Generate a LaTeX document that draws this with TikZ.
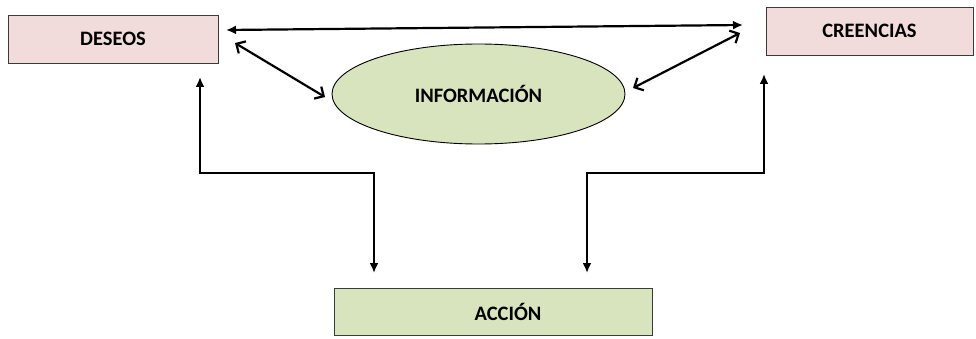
\documentclass[tikz,border=0pt]{standalone}
\usepackage{fontspec}
\setmainfont{Carlito}
\usetikzlibrary{arrows.meta,shapes.geometric}
\definecolor{pinkfill}{HTML}{F2DCDB}
\definecolor{greenfill}{HTML}{D7E4BD}
\definecolor{edge}{HTML}{3A3A3A}
\begin{document}
\begin{tikzpicture}[x=1pt,y=1pt,
  txt/.style={font=\fontsize{20.5}{24}\selectfont\bfseries, text=black},
  pinkbox/.style={draw=edge, line width=0.9pt, fill=pinkfill, rectangle, inner sep=0pt, txt},
  greenbox/.style={draw=edge, line width=0.9pt, fill=greenfill, rectangle, inner sep=0pt, txt},
  infoell/.style={draw=black, line width=0.9pt, fill=greenfill, ellipse, inner sep=0pt, txt},
  conn/.style={line width=2.2pt, black},
  filledtips/.style={conn, {Latex[length=10pt,width=9pt]}-{Latex[length=10pt,width=9pt]}},
  opentips/.style={conn, {Straight Barb[length=7pt,width=14pt,line width=2.2pt]}-{Straight Barb[length=7pt,width=14pt,line width=2.2pt]}}
]
\useasboundingbox (0,0) rectangle (976,338);
\node[pinkbox, minimum width=210pt, minimum height=48pt] (des) at (113,299) {DESEOS};
\node[pinkbox, minimum width=207pt, minimum height=48pt] (cre) at (869.5,307) {CREENCIAS};
\node[infoell, minimum width=293pt, minimum height=100pt] (inf) at (478.5,244) {};
\node[txt] (inft) at (inf.center) {INFORMACIÓN};
\node[greenbox, minimum width=318pt, minimum height=47pt] (acc) at (493,26.5) {};
\node[txt] (acct) at (508,26.5) {ACCIÓN};

\coordinate (destop) at (226,308);
\coordinate (cretop) at (743,313);
\coordinate (desdiag) at (235,295);
\coordinate (infl) at (325,241);
\coordinate (infr) at (633,250);
\coordinate (crediag) at (740,305);
\coordinate (desbot) at (200,261);
\coordinate (lbend) at (200,165);
\coordinate (lmid) at (374,165);
\coordinate (accl) at (374,65);
\coordinate (crebot) at (764,264);
\coordinate (rbend) at (764,165);
\coordinate (rmid) at (587,165);
\coordinate (accr) at (587,65);

\draw[filledtips] (destop) -- (cretop);
\draw[opentips] (desdiag) -- (infl);
\draw[opentips] (infr) -- (crediag);
\draw[filledtips] (desbot) -- (lbend) -- (lmid) -- (accl);
\draw[filledtips] (crebot) -- (rbend) -- (rmid) -- (accr);
\end{tikzpicture}
\end{document}
